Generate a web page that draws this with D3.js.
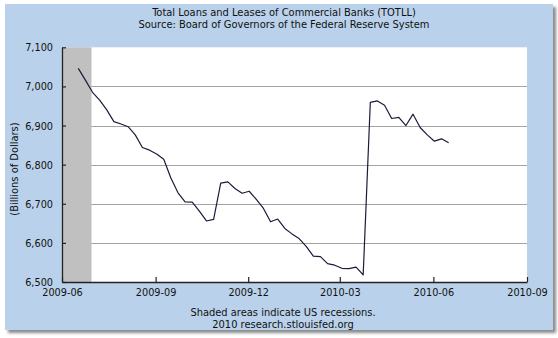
<!DOCTYPE html>
<html>
<head>
<meta charset="utf-8">
<script src="https://cdn.jsdelivr.net/npm/d3@7"></script>
<style>
  html, body { margin: 0; padding: 0; background: #ffffff; }
  svg { display: block; }
  text { font-family: "DejaVu Sans Condensed", "Liberation Sans", sans-serif; fill: #111; }
</style>
</head>
<body>
<svg id="chart" width="558" height="338"></svg>
<script>
// Weekly observations, Wednesdays (billions of dollars)
const weeks = [
  "2009-06-17","2009-06-24","2009-07-01","2009-07-08","2009-07-15","2009-07-22","2009-07-29",
  "2009-08-05","2009-08-12","2009-08-19","2009-08-26","2009-09-02","2009-09-09","2009-09-16",
  "2009-09-23","2009-09-30","2009-10-07","2009-10-14","2009-10-21","2009-10-28","2009-11-04",
  "2009-11-11","2009-11-18","2009-11-25","2009-12-02","2009-12-09","2009-12-16","2009-12-23",
  "2009-12-30","2010-01-06","2010-01-13","2010-01-20","2010-01-27","2010-02-03","2010-02-10",
  "2010-02-17","2010-02-24","2010-03-03","2010-03-10","2010-03-17","2010-03-24","2010-03-31",
  "2010-04-07","2010-04-14","2010-04-21","2010-04-28","2010-05-05","2010-05-12","2010-05-19",
  "2010-05-26","2010-06-02","2010-06-09","2010-06-16"
];
const totll = [
  7046, 7016, 6985, 6965, 6940, 6910, 6904,
  6897, 6876, 6844, 6837, 6827, 6814, 6766,
  6728, 6705, 6704, 6681, 6656, 6660, 6753,
  6756, 6739, 6727, 6732, 6711, 6688, 6654,
  6661, 6637, 6623, 6611, 6591, 6566, 6565,
  6547, 6543, 6535, 6534, 6538, 6518, 6959,
  6963, 6952, 6918, 6921, 6900, 6929, 6895,
  6876, 6860, 6866, 6856
];
const yTicks = [6500, 6600, 6700, 6800, 6900, 7000, 7100];
const xTicks = ["2009-06-01","2009-09-01","2009-12-01","2010-03-01","2010-06-01","2010-09-01"];
const xDomain = ["2009-06-01", "2010-09-01"];
const recessions = [["2007-12-01", "2009-06-30"]];

const titleLines = [
  "Total Loans and Leases of Commercial Banks (TOTLL)",
  "Source: Board of Governors of the Federal Reserve System"
];
const footerLines = [
  "Shaded areas indicate US recessions.",
  "2010 research.stlouisfed.org"
];
const yLabel = "(Billions of Dollars)";

const parse = d3.utcParse("%Y-%m-%d");
const svg = d3.select("#chart");
const fontFamily = '"DejaVu Sans Condensed", "Liberation Sans", sans-serif';

// Panel with a soft drop shadow
const defs = svg.append("defs");
defs.append("filter").attr("id", "shadow").attr("x", "-5%").attr("y", "-5%")
  .attr("width", "110%").attr("height", "110%")
  .append("feGaussianBlur").attr("stdDeviation", 1.6);
svg.append("rect").attr("x", 8).attr("y", 7).attr("width", 548).attr("height", 326)
  .attr("fill", "#8a8a8a").attr("filter", "url(#shadow)");
svg.append("rect").attr("x", 5).attr("y", 4).attr("width", 548).attr("height", 326)
  .attr("fill", "#b9d1ea");

const plot = { left: 62, right: 527, top: 47.3, bottom: 282 };

const x = d3.scaleUtc().domain(xDomain.map(parse)).range([plot.left, plot.right]);
const y = d3.scaleLinear().domain([6500, 7100]).range([plot.bottom, plot.top]);

// Plot background
svg.append("rect")
  .attr("x", plot.left).attr("y", plot.top)
  .attr("width", plot.right - plot.left).attr("height", plot.bottom - plot.top)
  .attr("fill", "#ffffff");

// Horizontal grid
svg.append("g")
  .selectAll("line")
  .data(yTicks.filter(v => v > 6500 && v < 7100))
  .join("line")
  .attr("x1", plot.left).attr("x2", plot.right)
  .attr("y1", d => Math.round(y(d)) + 0.5).attr("y2", d => Math.round(y(d)) + 0.5)
  .attr("stroke", "#a3a3a3").attr("stroke-width", 1.2);

// Recession shading, clipped to the visible range
svg.append("g")
  .selectAll("rect")
  .data(recessions)
  .join("rect")
  .attr("x", d => Math.max(plot.left, x(parse(d[0]))))
  .attr("width", d => Math.min(plot.right, x(parse(d[1]))) - Math.max(plot.left, x(parse(d[0]))))
  .attr("y", plot.top).attr("height", plot.bottom - plot.top)
  .attr("fill", "#c0c0c0");

// Series line
const data = weeks.map((w, i) => ({ date: parse(w), value: totll[i] }));
svg.append("path")
  .datum(data)
  .attr("fill", "none")
  .attr("stroke", "#1b1b3a")
  .attr("stroke-width", 1.2)
  .attr("stroke-linejoin", "round")
  .attr("d", d3.line().x(d => x(d.date)).y(d => y(d.value)));

// Axes
const yAxis = d3.axisLeft(y)
  .tickValues(yTicks)
  .tickFormat(d3.format(","))
  .tickSizeInner(-4).tickSizeOuter(0).tickPadding(9);
const gy = svg.append("g").attr("transform", `translate(${plot.left},0)`).call(yAxis);

const xAxis = d3.axisBottom(x)
  .tickValues(xTicks.map(parse))
  .tickFormat(d3.utcFormat("%Y-%m"))
  .tickSizeInner(-5).tickSizeOuter(0).tickPadding(6);
const gx = svg.append("g").attr("transform", `translate(0,${plot.bottom})`).call(xAxis);

[gx, gy].forEach(g => {
  g.selectAll(".domain").attr("stroke", "#222").attr("stroke-width", 1.3);
  g.selectAll(".tick line").attr("stroke", "#222").attr("stroke-width", 1.2);
  g.selectAll(".tick text").attr("font-size", 10.8).attr("fill", "#111")
    .style("font-family", fontFamily);
});

// Titles
svg.append("g")
  .selectAll("text")
  .data(titleLines)
  .join("text")
  .attr("x", 284).attr("y", (d, i) => 16 + i * 12)
  .attr("text-anchor", "middle")
  .attr("font-size", 11)
  .text(d => d);

// Y axis label
svg.append("text")
  .attr("transform", "translate(18,169) rotate(-90)")
  .attr("text-anchor", "middle")
  .attr("font-size", 11)
  .text(yLabel);

// Footer
svg.append("g")
  .selectAll("text")
  .data(footerLines)
  .join("text")
  .attr("x", 283).attr("y", (d, i) => 316 + i * 12)
  .attr("text-anchor", "middle")
  .attr("font-size", 11)
  .text(d => d);
</script>
</body>
</html>
